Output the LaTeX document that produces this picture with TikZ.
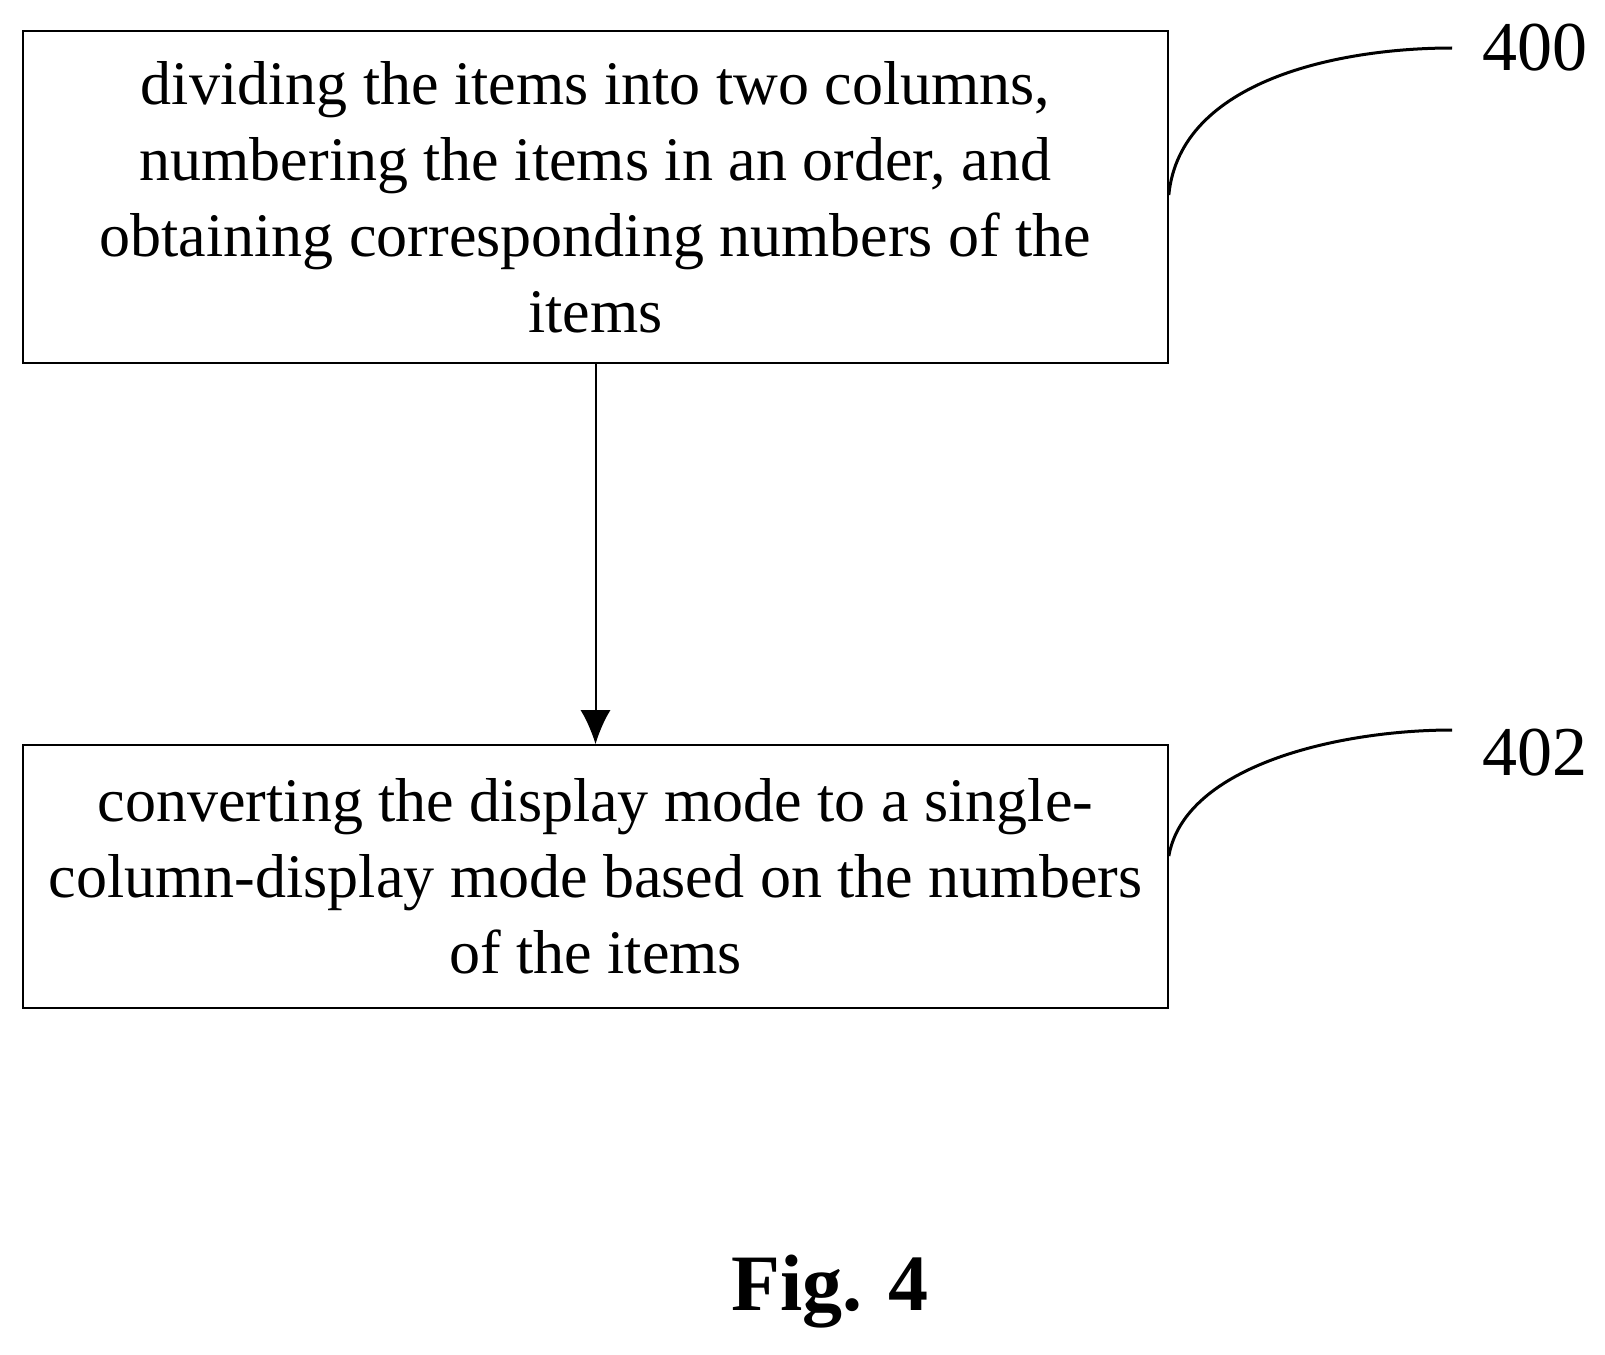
\documentclass[tikz,border=0pt]{standalone}
\usepackage{fontspec}
\usetikzlibrary{arrows.meta}
\setmainfont{Liberation Serif}
\begin{document}
\begin{tikzpicture}[x=1pt,y=-1pt,
 box/.style={draw,line width=1.6pt,minimum width=1145pt,align=center,font=\fontsize{62}{76}\selectfont,inner sep=0pt},
 lab/.style={font=\fontsize{70}{70}\selectfont},
 lead/.style={line width=3pt}]
\useasboundingbox (0,0) rectangle (1605,1354);
\node[box,minimum height=332pt] (b1) at (595.5,197) {dividing the items into two columns,\\numbering the items in an order, and\\obtaining corresponding numbers of the\\items};
\node[box,minimum height=263pt] (b2) at (595.5,876.5) {converting the display mode to a single-\\column-display mode based on the numbers\\of the items};
\draw[line width=2pt,-{Latex[length=34pt,width=30pt]}] (b1.south) -- (b2.north);
\node[lab] (l1) at (1535,48) {400};
\node[lab] (l2) at (1535,753) {402};
\coordinate (c1) at (1452,48);
\coordinate (c2) at (1452,730);
\draw[lead] (b1.east|-0,195) .. controls (1180,80) and (1340,48) .. (c1);
\draw[lead] (b2.east|-0,856) .. controls (1185,765) and (1340,730) .. (c2);
\node[font=\bfseries\fontsize{80}{80}\selectfont] (fig) at (830,1292) {Fig. 4};
\end{tikzpicture}
\end{document}
